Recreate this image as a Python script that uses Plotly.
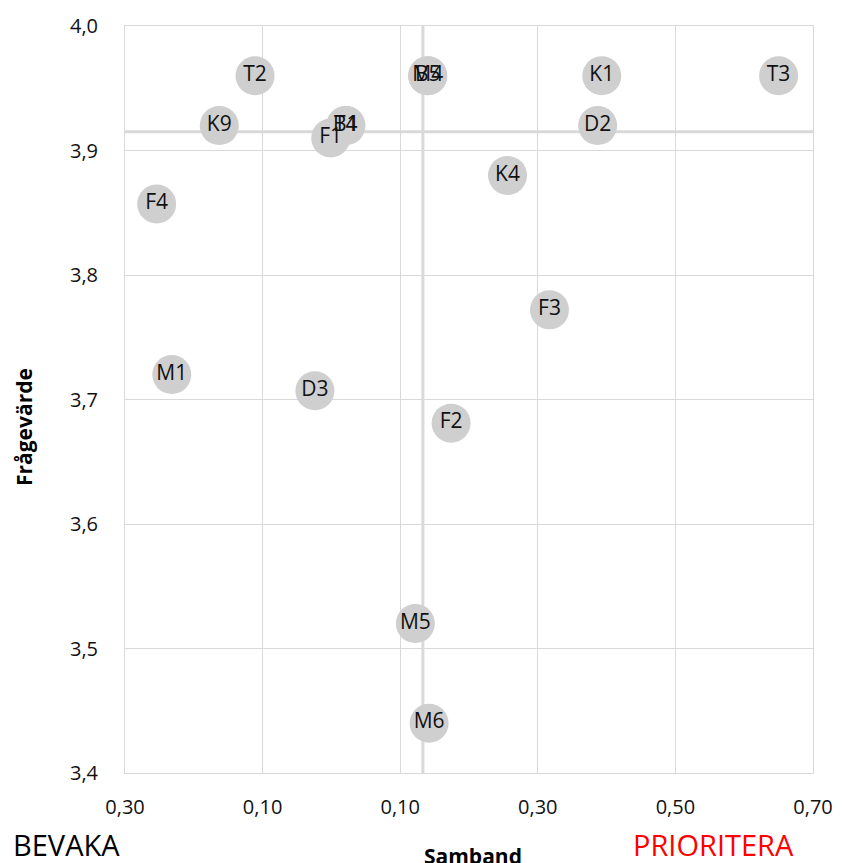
import plotly.graph_objects as go

labels = ["T2", "B5", "M4", "K1", "T3", "K9", "B1", "T4", "F1", "D2",
          "F4", "K4", "F3", "M1", "D3", "F2", "M5", "M6"]
samband = [-0.111, 0.140, 0.140, 0.393, 0.650, -0.163, 0.021, 0.021, -0.001, 0.387,
           -0.254, 0.256, 0.317, -0.232, -0.024, 0.174, 0.122, 0.142]
fragevarde = [3.96, 3.96, 3.96, 3.96, 3.96, 3.92, 3.92, 3.92, 3.91, 3.92,
              3.857, 3.88, 3.772, 3.72, 3.707, 3.681, 3.52, 3.44]

mean_samband = 0.133
mean_fragevarde = 3.915

x_tickvals = [-0.3, -0.1, 0.1, 0.3, 0.5, 0.7]
x_ticktext = ["0,30", "0,10", "0,10", "0,30", "0,50", "0,70"]
y_tickvals = [3.4, 3.5, 3.6, 3.7, 3.8, 3.9, 4.0]
y_ticktext = ["3,4", "3,5", "3,6", "3,7", "3,8", "3,9", "4,0"]

FONT = "Open Sans"
GRID = "#d9d9d9"

fig = go.Figure()
fig.add_trace(go.Scatter(
    x=samband, y=fragevarde, mode="markers+text", text=labels,
    textposition="middle center",
    textfont=dict(family=FONT, size=21, color="#111111"),
    marker=dict(size=39, color="#cfcfcf", line=dict(width=0)),
    cliponaxis=False, hoverinfo="skip", showlegend=False,
))

fig.add_shape(type="line", xref="x", yref="y", x0=mean_samband, x1=mean_samband,
              y0=3.4, y1=4.0, line=dict(color=GRID, width=3), layer="below")
fig.add_shape(type="line", xref="x", yref="y", x0=-0.3, x1=0.7,
              y0=mean_fragevarde, y1=mean_fragevarde,
              line=dict(color=GRID, width=3), layer="below")

fig.update_layout(
    width=845, height=863,
    margin=dict(l=125, r=24, t=17, b=90),
    paper_bgcolor="white", plot_bgcolor="white",
    separators=", ",
    font=dict(family=FONT, color="#111111"),
    xaxis=dict(range=[-0.3, 0.7], tickvals=x_tickvals, ticktext=x_ticktext,
               showgrid=True, gridcolor=GRID, gridwidth=1,
               showline=True, linecolor=GRID, mirror=True,
               zeroline=False, ticks="", ticklabelstandoff=16,
               tickfont=dict(family=FONT, size=20, color="#111111")),
    yaxis=dict(range=[3.4, 4.0], tickvals=y_tickvals, ticktext=y_ticktext,
               showgrid=True, gridcolor=GRID, gridwidth=1,
               showline=True, linecolor=GRID, mirror=True,
               zeroline=False, ticks="", ticklabelstandoff=22,
               tickfont=dict(family=FONT, size=20, color="#111111")),
)
fig.add_annotation(text="<b>Samband</b>", x=0.5055, y=-0.111, xref="paper", yref="paper",
                   xanchor="center", yanchor="middle", showarrow=False,
                   font=dict(family=FONT, size=21, color="black"))
fig.add_annotation(text="<b>Frågevärde</b>", x=-0.147, y=0.463, xref="paper", yref="paper",
                   xanchor="center", yanchor="middle", showarrow=False, textangle=-90,
                   font=dict(family=FONT, size=21, color="black"))
fig.add_annotation(text="BEVAKA", x=-0.166, y=-0.0957, xref="paper", yref="paper",
                   xanchor="left", yanchor="middle", showarrow=False,
                   font=dict(family=FONT, size=29, color="black"))
fig.add_annotation(text="PRIORITERA", x=0.976, y=-0.0957, xref="paper", yref="paper",
                   xanchor="right", yanchor="middle", showarrow=False,
                   font=dict(family=FONT, size=29, color="#ff0000"))

fig.write_html("out.html", config={"displayModeBar": False},
               post_script="document.body.style.margin='0';document.body.style.overflow='hidden';")
